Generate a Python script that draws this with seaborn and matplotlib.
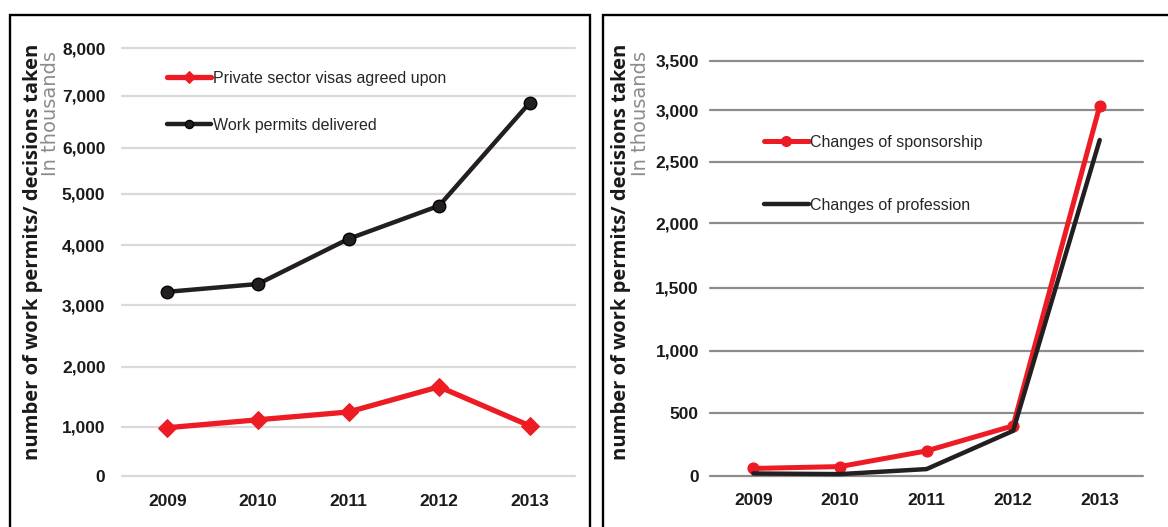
import numpy as np
import pandas as pd
import matplotlib.pyplot as plt
import seaborn as sns
from matplotlib.patches import Rectangle

# Data (in thousands)

years = ['2009', '2010', '2011', '2012', '2013']
visas_agreed = [985, 1120, 1250, 1670, 1020]
permits_delivered = [3220, 3350, 4120, 4770, 6870]
sponsorship_changes = [60, 75, 200, 400, 3040]
profession_changes = [20, 15, 55, 360, 2710]

left_ticks = [0, 1000, 2000, 3000, 4000, 5000, 6000, 7000, 8000]
right_ticks = [0, 500, 1000, 1500, 2000, 2500, 3000, 3500]

# The source charts have unevenly spaced gridlines: keep them where they were
left_fracs = [0, 0.1145, 0.2547, 0.3995, 0.5397, 0.6589, 0.7664, 0.8879, 1.0]
right_fracs = [0, 0.151, 0.3018, 0.4527, 0.6092, 0.7568, 0.8813, 1.0]

RED = '#ED1C24'
BLACK = '#231F20'
TICK_FONT = ['Liberation Sans', 'DejaVu Sans']

sns.set_style('white')
plt.rcParams['font.family'] = TICK_FONT


def piecewise(vals, fracs):
    vals = np.asarray(vals, float)
    fracs = np.asarray(fracs, float)

    def fwd(v):
        return np.interp(v, vals, fracs)

    def inv(f):
        return np.interp(f, fracs, vals)

    return fwd, inv


def style_axes(ax, ticks, fracs, grid_color, ypad, xpad):
    ax.set_yscale('function', functions=piecewise(ticks, fracs))
    ax.set_ylim(ticks[0], ticks[-1])
    ax.set_xlim(-0.5, len(years) - 0.5)
    ax.set_yticks(ticks)
    ax.set_yticklabels([f'{t:,}' for t in ticks])
    ax.tick_params(axis='y', length=0, pad=ypad, labelsize=12.5, labelcolor='#1a1a1a')
    ax.tick_params(axis='x', length=0, pad=xpad, labelsize=12.5, labelcolor='#1a1a1a')
    for lab in ax.get_xticklabels() + ax.get_yticklabels():
        lab.set_fontweight('bold')
    ax.set_xlabel('')
    ax.set_ylabel('')
    ax.grid(axis='y', color=grid_color, linewidth=1.6)
    ax.grid(axis='x', visible=False)
    for gl in ax.get_ygridlines():
        gl.set_clip_on(False)
    sns.despine(ax=ax, left=True, bottom=True)


fig = plt.figure(figsize=(11.68, 5.27), dpi=100)
ax1 = fig.add_axes([0.1045, 0.0968, 0.3878, 0.8121])
ax2 = fig.add_axes([0.6079, 0.0968, 0.3707, 0.788])

# Left chart

sns.lineplot(x=years, y=visas_agreed, ax=ax1, color=RED, linewidth=3.8,
             marker='D', markersize=9, markeredgecolor=RED,
             label='Private sector visas agreed upon', clip_on=False)
sns.lineplot(x=years, y=permits_delivered, ax=ax1, color=BLACK, linewidth=3.2,
             marker='o', markersize=9, markeredgecolor='black', markeredgewidth=1,
             label='Work permits delivered', clip_on=False)
style_axes(ax1, left_ticks, left_fracs, '#D9D9D9', 12, 13)

ax1.legend(loc='upper left', bbox_to_anchor=(0.081, 0.965), frameon=False,
           handlelength=2.8, handletextpad=0.1, labelspacing=2.0,
           borderpad=0, markerscale=0.65, prop={'family': TICK_FONT, 'size': 11.5})

# Right chart

sns.lineplot(x=years, y=sponsorship_changes, ax=ax2, color=RED, linewidth=3.6,
             marker='o', markersize=8, markeredgecolor=RED,
             label='Changes of sponsorship', clip_on=False)
sns.lineplot(x=years, y=profession_changes, ax=ax2, color=BLACK, linewidth=3.2,
             label='Changes of profession', clip_on=False)
style_axes(ax2, right_ticks, right_fracs, '#8C8C8C', 8, 12)

ax2.legend(loc='upper left', bbox_to_anchor=(0.106, 0.841), frameon=False,
           handlelength=2.8, handletextpad=0.1, labelspacing=3.0,
           borderpad=0, markerscale=0.9, prop={'family': TICK_FONT, 'size': 11.5})

# Axis titles

for x_main, x_sub in [(33 / 1168, 51 / 1168), (621 / 1168, 640 / 1168)]:
    fig.text(x_main, 1 - 44 / 527, 'number of work permits/ decisions taken',
             rotation=90, ha='center', va='top', fontsize=14.5,
             fontweight='bold', family=['Open Sans', 'DejaVu Sans'], color='#1a1a1a')
    fig.text(x_sub, 1 - 51 / 527, 'In thousands', rotation=90, ha='center',
             va='top', fontsize=14, family=['DejaVu Sans'], color='#8c8c8c')

# Frames around each panel

fig.add_artist(Rectangle((9.5 / 1168, -0.1), (590 - 9.5) / 1168, 1.0715,
                         transform=fig.transFigure, fill=False, lw=1.7, ec='black'))
fig.add_artist(Rectangle((602.5 / 1168, -0.1), 0.6, 1.0715,
                         transform=fig.transFigure, fill=False, lw=1.7, ec='black'))

fig.savefig('out.png', dpi=100, facecolor='white')
